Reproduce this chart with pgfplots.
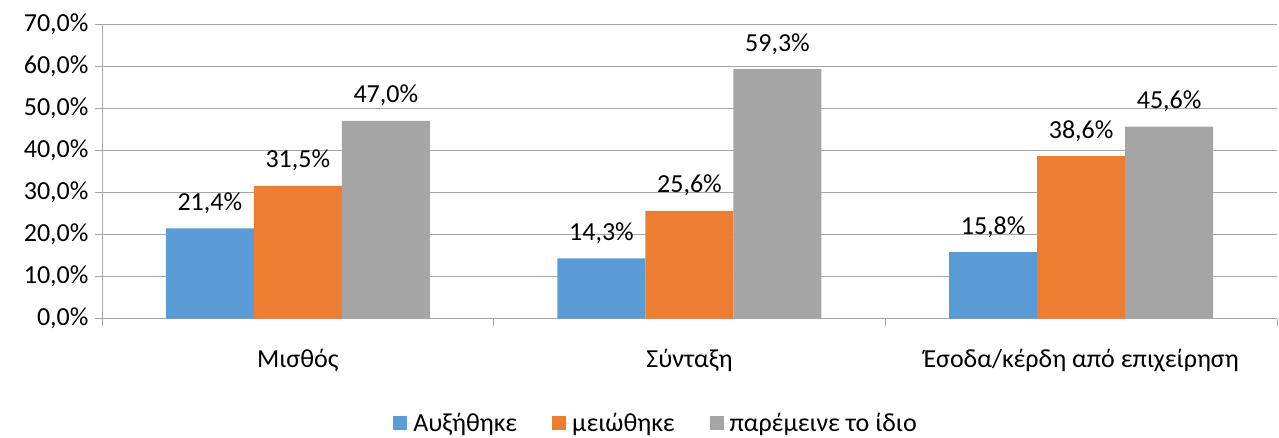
\documentclass[border=0pt]{standalone}
\usepackage{fontspec}
\setmainfont{Carlito}
\usepackage{pgfplots}
\pgfplotsset{compat=1.18}
\definecolor{cA}{HTML}{5B9BD5}
\definecolor{cB}{HTML}{ED7D31}
\definecolor{cC}{HTML}{A5A5A5}
\definecolor{gridc}{HTML}{A6A6A6}
\begin{document}
\begin{tikzpicture}
\path[use as bounding box] (-102bp,-119.5bp) rectangle (1177bp,318.5bp);
\begin{axis}[
  anchor=south west, at={(0,0)},
  scale only axis, width=1175bp, height=294.5bp,
  /pgf/number format/assume math mode=true,
  ybar=0pt, bar width=88bp,
  xmin=-0.5, xmax=2.5, ymin=0, ymax=70,
  xtick={0,1,2},
  xticklabels={Μισθός,Σύνταξη,Έσοδα/κέρδη από επιχείρηση},
  minor xtick={-0.5,0.5,1.5,2.5},
  major x tick style={draw=none},
  minor x tick style={draw=gridc, line width=0.8bp},
  ytick={0,10,...,70},
  ymajorgrids, grid style={gridc, line width=0.8bp},
  y tick style={draw=gridc, line width=0.8bp},
  tick align=outside, major tick length=7bp, minor tick length=7bp,
  axis x line*=bottom, axis y line*=left,
  axis line style={gridc, line width=0.8bp},
  yticklabel={\pgfmathprintnumber[fixed,fixed zerofill,precision=1,use comma]{\tick}\%},
  yticklabel style={font=\fontsize{26bp}{30bp}\selectfont, text=black, xshift=-3bp},
  xticklabel style={font=\fontsize{26bp}{30bp}\selectfont, text=black, yshift=-20bp},
  nodes near coords={\pgfmathprintnumber[fixed,fixed zerofill,precision=1,use comma]{\pgfplotspointmeta}\%},
  every node near coord/.append style={font=\fontsize{26bp}{30bp}\selectfont, text=black, anchor=base, yshift=18bp, inner sep=0pt},
  point meta=y,
  legend columns=-1,
  legend style={draw=none, at={(0.4715,-0.355)}, anchor=center, font=\fontsize{26bp}{30bp}\selectfont,
     /tikz/every even column/.append style={column sep=33bp}},
  legend image code/.code={\fill[#1, draw=none] (0bp,-7bp) rectangle (14bp,7bp); \path (0bp,0bp) -- (18bp,0bp);},
]
\addplot[fill=cA, draw=none] coordinates {(0,21.4) (1,14.3) (2,15.8)};
\addplot[fill=cB, draw=none] coordinates {(0,31.5) (1,25.6) (2,38.6)};
\addplot[fill=cC, draw=none] coordinates {(0,47.0) (1,59.3) (2,45.6)};
\legend{Αυξήθηκε, μειώθηκε, παρέμεινε το ίδιο}
\end{axis}
\end{tikzpicture}
\end{document}
